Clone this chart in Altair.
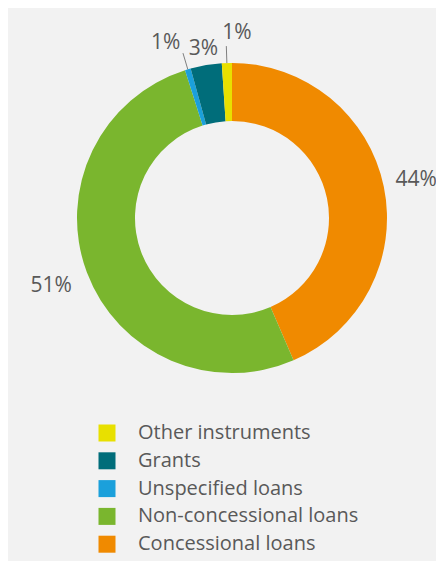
import altair as alt
import numpy as np
import pandas as pd

# ---- data ----
categories = ["Concessional loans", "Non-concessional loans", "Unspecified loans", "Grants", "Other instruments"]
shares = [43.5, 51.6, 0.6, 3.25, 1.05]
labels = ["44%", "51%", "1%", "3%", "1%"]
colors = ["#F08A00", "#7AB62E", "#1BA0DB", "#006D7A", "#E8E000"]
legend_order = ["Other instruments", "Grants", "Unspecified loans", "Non-concessional loans", "Concessional loans"]
leader_categories = ["Unspecified loans", "Other instruments"]

# ---- layout constants ----
W, H = 428, 553
CX, CY = 224, 210
R_OUT, R_IN = 155, 97
FONT = "Open Sans"
TXT = "#595959"

df = pd.DataFrame({"category": categories, "share": shares, "label": labels})
total = float(df["share"].sum())
df["end"] = df["share"].cumsum()
df["start"] = df["end"] - df["share"]
df["mid"] = (df["start"] + df["end"]) / 2
ang = 2 * np.pi * df["mid"] / total
df["lx1"] = CX + R_OUT * np.sin(ang)
df["ly1"] = CY - R_OUT * np.cos(ang)
df["lx2"] = CX + 172 * np.sin(ang)
df["ly2"] = CY - 172 * np.cos(ang)

color_map = dict(zip(categories, colors))
theta_scale = alt.Scale(domain=[0, total], range=[0, 2 * np.pi])

base = alt.Chart(df)

arcs = base.mark_arc(outerRadius=R_OUT, innerRadius=R_IN).encode(
    theta=alt.Theta("start:Q", scale=theta_scale, stack=False),
    theta2="end:Q",
    color=alt.Color(
        "category:N",
        scale=alt.Scale(domain=legend_order, range=[color_map[c] for c in legend_order]),
        legend=alt.Legend(
            title=None,
            orient="none",
            legendX=89,
            legendY=415,
            symbolType="square",
            symbolSize=289,
            symbolStrokeWidth=0,
            labelFont=FONT,
            labelFontSize=20,
            labelColor=TXT,
            labelOffset=21,
            labelLimit=320,
            rowPadding=7.8,
            padding=0,
        ),
    ),
    x=alt.value(CX),
    y=alt.value(CY),
)


def label_layer(cats, radius, dx=0, dy=0):
    return base.transform_filter(
        alt.FieldOneOfPredicate(field="category", oneOf=cats)
    ).mark_text(
        radius=radius, dx=dx, dy=dy, font=FONT, fontSize=21, color=TXT
    ).encode(
        theta=alt.Theta("mid:Q", scale=theta_scale, stack=False),
        text="label:N",
        x=alt.value(CX),
        y=alt.value(CY),
    )


lab_conc = label_layer(["Concessional loans"], 188)
lab_nonc = label_layer(["Non-concessional loans"], 193)
lab_grants = label_layer(["Grants"], 171)
lab_other = label_layer(["Other instruments"], 185, dx=11)
lab_unspec = label_layer(["Unspecified loans"], 187, dx=-13, dy=4)

leaders = base.transform_filter(
    alt.FieldOneOfPredicate(field="category", oneOf=leader_categories)
).mark_rule(color="#7F7F7F", strokeWidth=1).encode(
    x=alt.X("lx1:Q", scale=alt.Scale(domain=[0, W], range=[0, W]), axis=None),
    x2="lx2:Q",
    y=alt.Y("ly1:Q", scale=alt.Scale(domain=[0, H], range=[0, H]), axis=None),
    y2="ly2:Q",
)

chart = alt.layer(
    arcs, leaders, lab_conc, lab_nonc, lab_grants, lab_other, lab_unspec
).properties(
    width=W,
    height=H,
    padding=0,
    autosize=alt.AutoSizeParams(type="none"),
    background="#F2F2F2",
).configure_view(stroke=None)

chart.save("out.html", embed_options={"renderer": "svg", "actions": False})
